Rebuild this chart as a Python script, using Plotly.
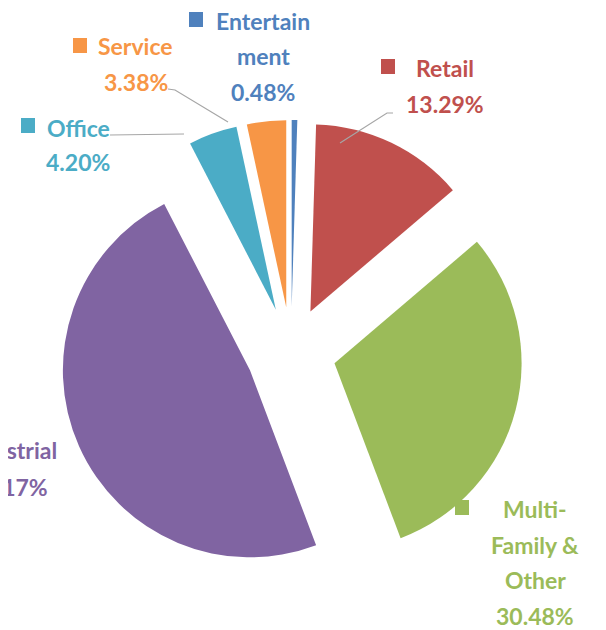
import plotly.graph_objects as go

# page has an 8px body margin, so the figure is drawn 8px in from the top-left
OFF = 8
W, H = 606 - OFF, 630 - OFF

sectors = ["Entertainment", "Retail", "Multi-Family & Other", "Industrial", "Office", "Service"]
shares = [0.48, 13.29, 30.48, 48.17, 4.20, 3.38]
label_lines = [["Entertain", "ment"], ["Retail"], ["Multi-", "Family &", "Other"],
               ["Industrial"], ["Office"], ["Service"]]
colors = ["#4F81BD", "#C0504D", "#9BBB59", "#8064A2", "#4BACC6", "#F79646"]


def px(x, y):
    # page pixel position -> paper coords
    return (x - OFF) / W, 1 - (y - OFF) / H


cx, cy, box = 291, 352, 464
x0, y0 = px(cx - box / 2, cy + box / 2)
x1, y1 = px(cx + box / 2, cy - box / 2)

fig = go.Figure(go.Pie(
    labels=sectors,
    values=shares,
    sort=False,
    direction="clockwise",
    rotation=0,
    pull=0.24,
    marker=dict(colors=colors, line=dict(width=0)),
    textinfo="none",
    hoverinfo="label+percent",
    domain=dict(x=[x0, x1], y=[y0, y1]),
))

# label: centre x, first line y, line pitch ; legend key centre (page pixels)
label_pos = [(263, 21, 35.3), (445, 68.5, 36), (535, 509, 35.7),
             (9, 450, 37), (78, 127.5, 34.5), (135.5, 45.5, 36.5)]
key_pos = [(196, 19), (388, 66), (462, 507), (-80, 449), (28, 125), (80, 45)]

font = dict(family="Lato, sans-serif", size=23, weight=700)
for lines, val, col, (lx, ly, pitch), (kx, ky) in zip(label_lines, shares, colors, label_pos, key_pos):
    for i, t in enumerate(lines + ["%.2f%%" % val]):
        x, y = px(lx, ly + i * pitch)
        fig.add_annotation(
            x=x, y=y, xref="paper", yref="paper", text=t,
            showarrow=False, xanchor="center", yanchor="middle",
            font=dict(font, color=col),
        )
    a0, b0 = px(kx - 7, ky + 8)
    a1, b1 = px(kx + 7, ky - 7)
    fig.add_shape(type="rect", xref="paper", yref="paper", x0=a0, y0=b0, x1=a1, y1=b1,
                  fillcolor=col, line=dict(width=0))

# leader lines
leaders = [
    [(168, 89), (175, 90), (228, 122)],
    [(110, 135), (184, 134)],
    [(340, 143), (387, 113), (393, 113)],
]
for pts in leaders:
    path = ""
    for i, (a, b) in enumerate(pts):
        x, y = px(a, b)
        path += ("M" if i == 0 else " L") + " %f,%f" % (x, y)
    fig.add_shape(type="path", xref="paper", yref="paper", path=path,
                  line=dict(color="#A6A6A6", width=1.2))

fig.update_layout(
    width=W, height=H,
    margin=dict(l=0, r=0, t=0, b=0),
    showlegend=False,
    paper_bgcolor="white",
    plot_bgcolor="white",
)

fig.write_html("out.html")
